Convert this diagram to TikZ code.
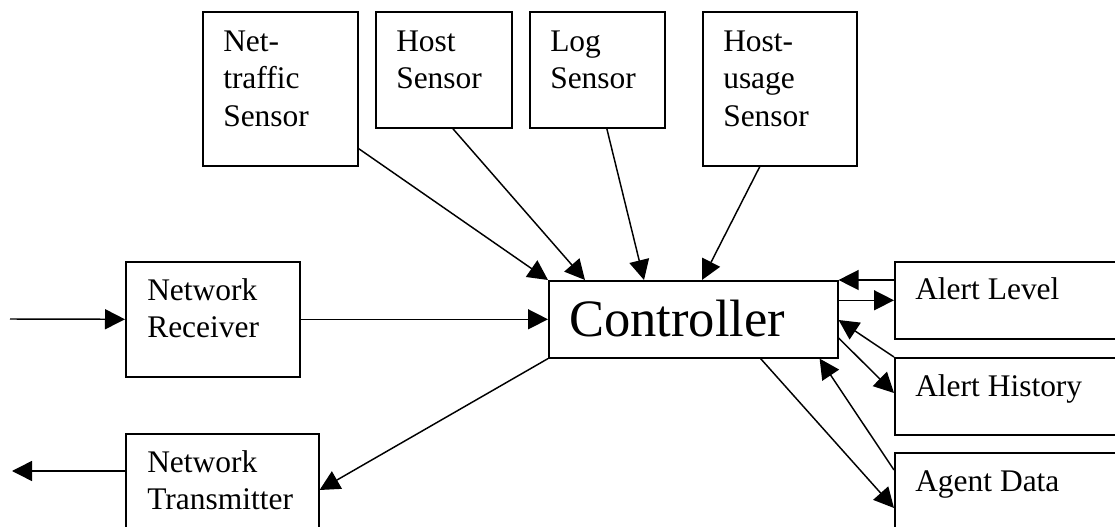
\documentclass[tikz,border=0pt]{standalone}
\usepackage{fontspec}
\setmainfont{Liberation Serif}
\usetikzlibrary{arrows.meta,calc}
\tikzset{
  box/.style={draw, line width=1.2pt, inner sep=0pt, anchor=north west},
  lbl/.style={inner sep=0pt, anchor=north west, align=left,
              font=\fontsize{23.6}{28.1}\selectfont},
  onelbl/.style={inner sep=0pt, anchor=base west,
              font=\fontsize{23.6}{28.1}\selectfont},
  biglbl/.style={inner sep=0pt, anchor=base west,
              font=\fontsize{39.4}{47}\selectfont},
  conn/.style={line width=1.1pt, -{Triangle[length=15pt,width=15pt]}},
}
\begin{document}
\begin{tikzpicture}[x=0.75pt, y=-0.75pt]
\clip (0,0) rectangle (1115,527);

% sensors along the top
\node[box, minimum width=116.25pt, minimum height=115.5pt] (nts) at (202,11) {};
\node[box, minimum width=102pt,    minimum height=87pt]    (hs)  at (375,11) {};
\node[box, minimum width=101.25pt, minimum height=87pt]    (ls)  at (529,11) {};
\node[box, minimum width=115.5pt,  minimum height=115.5pt] (hus) at (702,11) {};
\node[lbl] (ntsL) at ($(nts.north west)+(21,13.8)$) {\strut Net-\\traffic\\Sensor};
\node[lbl] (hsL)  at ($(hs.north west)+(21,13.8)$)  {\strut Host\\Sensor};
\node[lbl] (lsL)  at ($(ls.north west)+(21,13.8)$)  {\strut Log\\Sensor};
\node[lbl] (husL) at ($(hus.north west)+(21,13.8)$) {\strut Host-\\usage\\Sensor};

% network side
\node[box, minimum width=130.5pt,  minimum height=86.25pt] (nr) at (125,261) {};
\node[box, minimum width=144.75pt, minimum height=86.25pt] (nt) at (125,433) {};
\node[lbl] (nrL) at ($(nr.north west)+(22,12.8)$) {\strut Network\\Receiver};
\node[lbl] (ntL) at ($(nt.north west)+(22,12.8)$) {\strut Network\\Transmitter};

% controller
\node[box, minimum width=216.75pt, minimum height=57.75pt] (ctl) at (548,280) {};
\node[biglbl] (ctlL) at ($(ctl.north west)+(21,57)$) {Controller};

% data stores on the right
\node[box, minimum width=195pt, minimum height=57.75pt] (al) at (894,261) {};
\node[box, minimum width=195pt, minimum height=57.75pt] (ah) at (894,357) {};
\node[box, minimum width=195pt, minimum height=75pt]    (ad) at (894,452) {};
\node[onelbl] (alL) at ($(al.north west)+(21,39)$) {Alert Level};
\node[onelbl] (ahL) at ($(ah.north west)+(21,40)$) {Alert History};
\node[onelbl] (adL) at ($(ad.north west)+(21,40)$) {Agent Data};

% free ends
\coordinate (in)  at (10,319);
\coordinate (out) at (12,471);

% connectors
\draw[conn] (in) -- (nr.west);
\draw[conn] (nr.east) -- (ctl.west);
\draw[conn] ($(nts.south east)+(0,-18)$) -- (ctl.north west);
\draw[conn] ($(hs.south)+(9,0)$) -- ($(ctl.north west)+(37,0)$);
\draw[conn] ($(ls.south)+(9.5,0)$) -- ($(ctl.north west)+(96,0)$);
\draw[conn] ($(hus.south)+(-20,0)$) -- ($(ctl.north west)+(154,0)$);

\draw[conn] (al.west |- ctl.north east) -- (ctl.north east);
\draw[conn] (ctl.east |- al.west) -- (al.west);
\draw[conn] (ah.north west) -- ($(ctl.north east)+(0,40)$);
\draw[conn] ($(ctl.north east)+(0,58)$) -- ($(ah.north west)+(0,36)$);
\draw[conn] ($(ad.north west)+(0,18)$) -- ($(ctl.south east)+(-19,0)$);
\draw[conn] ($(ctl.south east)+(-78,0)$) -- ($(ad.north west)+(0,56)$);

\draw[conn] (ctl.south west) -- ($(nt.north east)+(0,57)$);
\draw[conn] ($(nt.north west)+(0,38)$) -- (out);
\end{tikzpicture}
\end{document}
